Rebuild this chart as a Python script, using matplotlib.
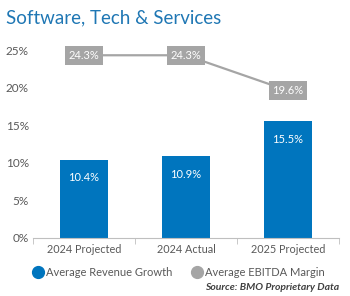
import numpy as np
import matplotlib as mpl; mpl.use('Agg')
import matplotlib.pyplot as plt

# data
categories = ['2024 Projected', '2024 Actual', '2025 Projected']
revenue_growth = [10.4, 10.9, 15.5]
ebitda_margin = [24.3, 24.3, 19.6]
y_ticks = [0, 5, 10, 15, 20, 25]

BLUE = '#0075be'
GREY = '#a5a5a5'
TXT = '#595959'

plt.rcParams['font.family'] = ['Lato', 'DejaVu Sans']

fig = plt.figure(figsize=[3.5, 2.96], dpi=100)
ax = fig.add_axes([33/350, 1 - 238/296, 306/350, 188/296])
x = np.arange(len(categories))

# --- bars
ax.bar(x, revenue_growth, width=0.47, color=BLUE, zorder=2)
for xi, v in zip(x, revenue_growth):
    ax.annotate(f"{v}%", (xi, v), xytext=(0, -13), textcoords='offset points',
                ha='center', va='center', color='white', fontsize=8)

# --- line
ax.plot(x, ebitda_margin, color=GREY, lw=1.6, zorder=3)
for xi, v in zip(x, ebitda_margin):
    ax.text(xi, v, f"{v}%", ha='center', va='center', color='white', fontsize=8,
            zorder=4, bbox=dict(boxstyle='square,pad=0.35', fc=GREY, ec='none'))

# --- axes format
ax.set_xlim(-0.5, 2.5)
ax.set_ylim(0, 25)
ax.set_yticks(y_ticks)
ax.set_yticklabels([f"{t}%" for t in y_ticks])
ax.set_xticks(x)
ax.set_xticklabels(categories)
ax.set_xticks([-0.5, 0.5, 1.5, 2.5], minor=True)
ax.tick_params(axis='x', which='major', length=0, pad=4, labelsize=7.8, labelcolor=TXT)
ax.tick_params(axis='x', which='minor', length=4, color='#bfbfbf', direction='out')
ax.tick_params(axis='y', length=0, pad=3, labelsize=8.5, labelcolor=TXT)
for s in ['top', 'right', 'left']:
    ax.spines[s].set_visible(False)
ax.spines['bottom'].set_color('#bfbfbf')
ax.spines['bottom'].set_linewidth(0.8)

# --- title
fig.text(6/350, 1 - 18/296, "Software, Tech & Services", color='#1f77b4',
         fontsize=13.5, ha='left', va='center')

# --- legend
fig.lines.append(mpl.lines.Line2D([38/350], [1 - 272/296], marker='o', ms=8.5,
                                  color=BLUE, transform=fig.transFigure))
fig.text(46/350, 1 - 272/296, "Average Revenue Growth", color=TXT, fontsize=8,
         ha='left', va='center')
fig.lines.append(mpl.lines.Line2D([197/350], [1 - 272/296], marker='o', ms=8.5,
                                  color=GREY, transform=fig.transFigure))
fig.text(205/350, 1 - 272/296, "Average EBITDA Margin", color=TXT, fontsize=8,
         ha='left', va='center')

# --- source
fig.text(339/350, 1 - 287/296, "Source: BMO Proprietary Data", color='#404040',
         fontsize=7.5, style='italic', weight='bold', ha='right', va='center')

fig.savefig('out.png', dpi=100)
